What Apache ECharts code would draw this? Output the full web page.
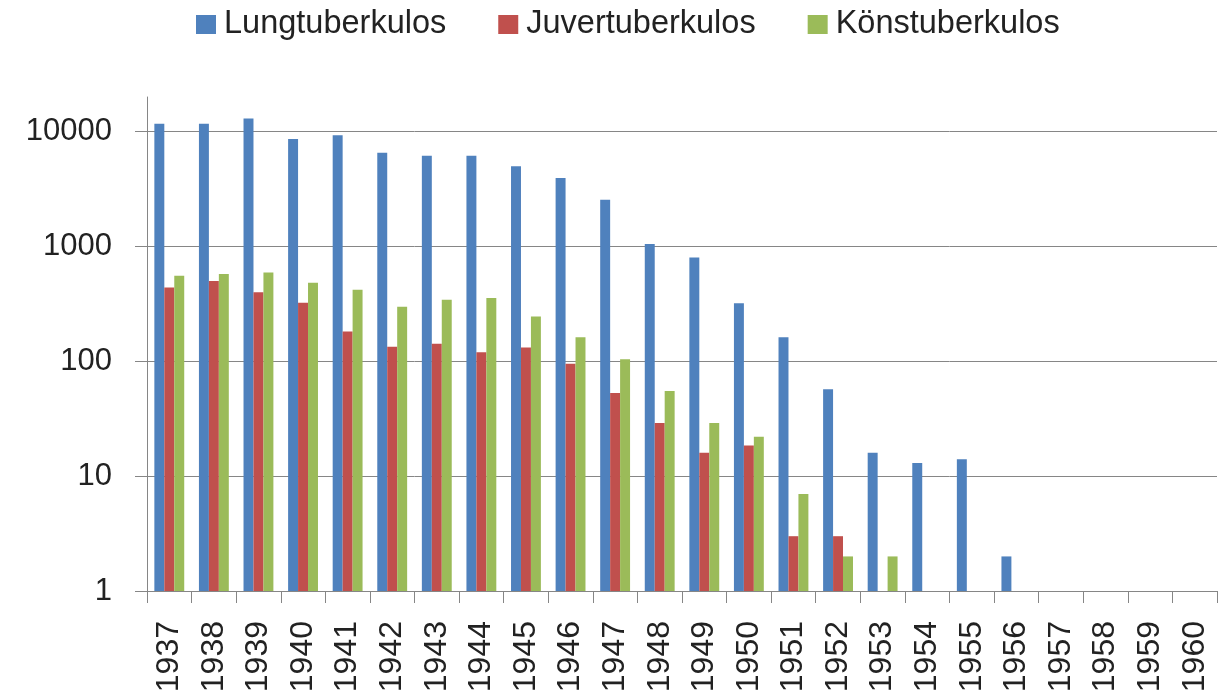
<!DOCTYPE html>
<html>
<head>
<meta charset="utf-8">
<script src="https://cdn.jsdelivr.net/npm/echarts@6/dist/echarts.min.js"></script>
<style>html,body{margin:0;padding:0;background:#fff}#c{width:1230px;height:699px}</style>
</head>
<body>
<div id="c"></div>
<script>
const years = ['1937','1938','1939','1940','1941','1942','1943','1944','1945','1946','1947','1948','1949','1950','1951','1952','1953','1954','1955','1956','1957','1958','1959','1960'];
const lungtuberkulos = [11700, 11700, 13000, 8600, 9300, 6550, 6150, 6150, 5000, 3950, 2550, 1050, 800, 320, 162, 57, 16, 13, 14, 2, null, null, null, null];
const juvertuberkulos = [440, 500, 400, 324, 182, 134, 142, 120, 132, 95, 53, 29, 16, 18.5, 3, 3, null, null, null, null, null, null, null, null];
const konstuberkulos = [556, 575, 594, 484, 420, 299, 344, 356, 245, 162, 104, 55, 29, 22, 7, 2, 2, null, null, null, null, null, null, null];
const yTicks = [1, 10, 100, 1000, 10000];
const seriesNames = ['Lungtuberkulos', 'Juvertuberkulos', 'Könstuberkulos'];

const chart = echarts.init(document.getElementById('c'), null, {renderer: 'canvas'});
const gridColor = '#868686';
const textColor = '#222';
chart.setOption({
  animation: false,
  color: ['#4F81BD', '#C0504D', '#9BBB59'],
  legend: {
    top: 3,
    left: 191,
    itemWidth: 20,
    itemHeight: 19,
    itemGap: 52,
    icon: 'rect',
    textStyle: {fontFamily: 'Liberation Sans', fontSize: 32.5, color: textColor, padding: [0, 0, 0, 3]},
    data: seriesNames
  },
  grid: {left: 147, right: 13, top: 97, bottom: 108, containLabel: false},
  xAxis: {
    type: 'category',
    data: years,
    boundaryGap: true,
    axisLine: {lineStyle: {color: gridColor, width: 1}},
    axisTick: {show: true, length: 12, lineStyle: {color: gridColor}},
    axisLabel: {rotate: 90, margin: 30, fontFamily: 'Liberation Sans', fontSize: 32, color: textColor, interval: 0},
    splitLine: {show: false}
  },
  yAxis: {
    type: 'log',
    logBase: 10,
    min: 1,
    max: 20000,
    axisLine: {show: true, lineStyle: {color: gridColor, width: 1}},
    axisTick: {show: true, length: 12, lineStyle: {color: gridColor}, customValues: yTicks},
    axisLabel: {margin: 35, fontFamily: 'Liberation Sans', fontSize: 31, color: textColor, customValues: yTicks,
      formatter: v => String(Math.round(v))},
    splitLine: {show: true, showMinLine: false, showMaxLine: true, lineStyle: {color: gridColor, width: 1}},
    minorTick: {show: false}
  },
  series: [
    {name: seriesNames[0], type: 'bar', data: lungtuberkulos, barGap: '0%', barCategoryGap: '33%'},
    {name: seriesNames[1], type: 'bar', data: juvertuberkulos, barGap: '0%', barCategoryGap: '33%'},
    {name: seriesNames[2], type: 'bar', data: konstuberkulos, barGap: '0%', barCategoryGap: '33%'}
  ]
});
</script>
</body>
</html>
